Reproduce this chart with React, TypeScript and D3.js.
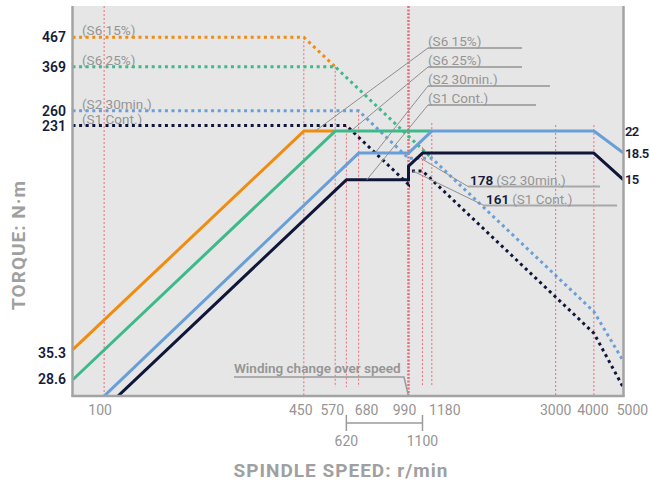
import React from "react";
import * as d3 from "d3";

// ---------- data ----------
const speedTicks = [100, 450, 570, 680, 990, 1180, 3000, 4000, 5000];
const speedTicksLower = [620, 1100];
const torqueTicks = [467, 369, 260, 231];
const torqueTicksLow = [35.3, 28.6];
const powerTicks = [22, 18.5, 15];

const seriesNames = ["(S6 15%)", "(S6 25%)", "(S2 30min.)", "(S1 Cont.)"];

// torque curves [r/min, N·m] (dotted)
const torqueS6_15 = [[78.8, 467], [450, 467], [570, 369]];
const torqueS6_25 = [[78.8, 369], [570, 369], [1180, 178]];
const torqueS2 = [[78.8, 260], [680, 260], [990, 178], [1180, 178], [4000, 52.5], [5000, 35.3]];
const torqueS1 = [[78.8, 231], [620, 231], [990, 144.7], [990, 161], [1100, 161], [4000, 44.2], [5000, 28.6]];

// power curves [r/min, kW] (solid)
const powerS6_15 = [[78.8, 3.94], [450, 22], [570, 22]];
const powerS6_25 = [[78.8, 3.11], [570, 22], [1180, 22]];
const powerS2 = [[100, 2.74], [680, 18.5], [990, 18.5], [1180, 22], [4000, 22], [5000, 18.5]];
const powerS1 = [[111, 2.74], [620, 15], [990, 15], [990, 16.7], [1100, 18.5], [4000, 18.5], [5000, 15]];

// leader targets for the series labels (power curves) [r/min, kW]
const powerLabelTargets = [[490, 22], [641, 22], [769, 18.5], [723, 15]];
// torque value labels after winding change
const torqueValueLabels = [
  { value: "178", name: "(S2 30min.)", target: [1087, 178] },
  { value: "161", name: "(S1 Cont.)", target: [1023, 161] },
];
const windingChangeText = "Winding change over speed";
const windingChangeSpeed = 990;

// ---------- styles / layout ----------
const W = 650, H = 486;
const PL = 72.5, PR = 623.5, PT = 6, PB = 396;
const colors = ["#f28c0f", "#3db98a", "#689fd9", "#10163a"];
const NAVY = "#151a3c";
const GRAY_TXT = "#959595";
const RED = "#ee6b7b";
const FONT = "Roboto, sans-serif";

const x = d3.scaleLog().domain([78.8, 5000]).range([PL, PR]);
const yT = d3.scaleLog().domain([26.8, 599]).range([PB, PT]);
const yP = d3.scaleLog().domain([2.742, 58.8]).range([PB, PT]);

const tickDx: Record<number, number> = { 100: -4, 450: -3, 570: -3, 680: 8, 990: -4, 1180: 13, 3000: 0, 4000: -1, 5000: 9 };

export default function App() {
  const lineT = d3.line<number[]>().x(d => x(d[0])).y(d => yT(d[1]));
  const lineP = d3.line<number[]>().x(d => x(d[0])).y(d => yP(d[1]));
  const torques = [torqueS6_15, torqueS6_25, torqueS2, torqueS1];
  const powers = [powerS6_15, powerS6_25, powerS2, powerS1];

  const guides = [
    { s: 100, y1: PT, y2: PB },
    { s: 450, y1: yT(467), y2: PB },
    { s: 570, y1: yT(369), y2: 387 },
    { s: 620, y1: yT(231), y2: 387 },
    { s: 680, y1: yT(260), y2: 387 },
    { s: 1100, y1: yP(18.5) - 6, y2: 387 },
    { s: 1180, y1: yP(22) - 8, y2: 387 },
    { s: 3000, y1: yP(22) - 6, y2: PB },
    { s: 4000, y1: yP(22) - 6, y2: PB },
  ];

  const upperLabelY = [46, 65, 84, 103];
  const upperLabelEnd = [522, 522, 550, 536];
  const upperX = 428;
  const lowerLabels = [{ x: 470, y: 185, end: 600 }, { x: 486, y: 204, end: 617 }];

  return (
    <svg width={W} height={H} style={{ position: "absolute", left: 0, top: 0, fontFamily: FONT }}>
      <defs>
        <clipPath id="plotClip">
          <rect x={PL} y={PT} width={PR - PL} height={PB - PT} />
        </clipPath>
      </defs>
      <rect x={0} y={0} width={W} height={H} fill="#fff" />
      <rect x={PL} y={PT} width={PR - PL} height={PB - PT} fill="#e6e6e6" />

      {/* guide lines */}
      {guides.map((g, i) => (
        <line key={i} x1={x(g.s)} x2={x(g.s)} y1={g.y1} y2={g.y2} stroke={RED} strokeWidth={1} strokeDasharray="2,2" />
      ))}
      <line x1={x(990)} x2={x(990)} y1={PT} y2={PB} stroke={RED} strokeWidth={2.5} strokeDasharray="2,1.5" />

      {/* winding change label */}
      <text x={234} y={373} fill={GRAY_TXT} fontSize={13.5} fontWeight={600}>{windingChangeText}</text>
      <polyline points={`234,377 404,377 ${x(windingChangeSpeed)},${PB}`} fill="none" stroke="#9a9a9a" strokeWidth={1.5} />

      {/* left in-plot series labels */}
      {torqueTicks.map((t, i) => (
        <text key={i} x={82} y={yT(t) - 2} fill={GRAY_TXT} fontSize={13.5}>{seriesNames[i]}</text>
      ))}

      <g clipPath="url(#plotClip)">
        {torques.map((d, i) => (
          <path key={"t" + i} d={lineT(d) || ""} fill="none" stroke={colors[i]} strokeWidth={3} strokeDasharray="3,3.6" />
        ))}
        {powers.map((d, i) => (
          <path key={"p" + i} d={lineP(d) || ""} fill="none" stroke={colors[i]} strokeWidth={3} strokeLinejoin="round" />
        ))}
      </g>

      {/* upper right series labels with leaders */}
      {seriesNames.map((n, i) => {
        const t = powerLabelTargets[i];
        const by = upperLabelY[i];
        return (
          <g key={"ul" + i}>
            <line x1={upperX} y1={by + 2} x2={x(t[0])} y2={yP(t[1])} stroke="#8f8f8f" strokeWidth={1} />
            <line x1={upperX} y1={by + 2} x2={upperLabelEnd[i]} y2={by + 2} stroke="#a8a8a8" strokeWidth={1.8} />
            <text x={upperX} y={by} fill={GRAY_TXT} fontSize={13.5}>{n}</text>
          </g>
        );
      })}

      {/* torque value labels */}
      {torqueValueLabels.map((l, i) => {
        const L = lowerLabels[i];
        return (
          <g key={"tl" + i}>
            <line x1={L.x - 2} y1={L.y + 1.5} x2={x(l.target[0])} y2={yT(l.target[1])} stroke="#8f8f8f" strokeWidth={1} />
            <line x1={L.x - 2} y1={L.y + 1.5} x2={L.end} y2={L.y + 1.5} stroke="#a8a8a8" strokeWidth={1.8} />
            <text x={L.x} y={L.y} fontSize={13.5}>
              <tspan fill={NAVY} fontWeight={600}>{l.value}</tspan>
              <tspan fill={GRAY_TXT} dx={3}>{l.name}</tspan>
            </text>
          </g>
        );
      })}

      {/* axes */}
      <line x1={PL} x2={PL} y1={PT} y2={PB + 1} stroke="#a3a3a3" strokeWidth={2.5} />
      <line x1={PR} x2={PR} y1={PT} y2={PB + 1} stroke="#a3a3a3" strokeWidth={2.5} />
      <line x1={PL - 1} x2={PR + 1} y1={PB} y2={PB} stroke="#a3a3a3" strokeWidth={2.5} />

      {/* left ticks */}
      {torqueTicks.map(t => (
        <text key={t} x={66} y={yT(t)} textAnchor="end" dominantBaseline="central" fill={NAVY} fontSize={14} fontWeight={600}>{t}</text>
      ))}
      {torqueTicksLow.map(t => (
        <text key={t} x={66} y={yT(t) - 8.5} textAnchor="end" dominantBaseline="central" fill={NAVY} fontSize={14} fontWeight={600}>{t}</text>
      ))}
      {/* right ticks (power) */}
      {powerTicks.map(p => (
        <text key={p} x={625} y={yP(p)} textAnchor="start" dominantBaseline="central" fill={NAVY} fontSize={13} fontWeight={600} letterSpacing={-0.6}>{p}</text>
      ))}

      {/* bottom ticks */}
      {speedTicks.map(s => (
        <text key={s} x={x(s) + (tickDx[s] || 0)} y={415} textAnchor="middle" fill={GRAY_TXT} fontSize={14}>{s}</text>
      ))}
      <g stroke="#9a9a9a" strokeWidth={1.5}>
        <line x1={x(speedTicksLower[0])} x2={x(speedTicksLower[1])} y1={423} y2={423} />
        <line x1={x(speedTicksLower[0])} x2={x(speedTicksLower[0])} y1={415} y2={431} />
        <line x1={x(speedTicksLower[1])} x2={x(speedTicksLower[1])} y1={415} y2={431} />
      </g>
      {speedTicksLower.map(s => (
        <text key={s} x={x(s)} y={446} textAnchor="middle" fill={GRAY_TXT} fontSize={14}>{s}</text>
      ))}

      {/* axis titles */}
      <text x={341} y={477} textAnchor="middle" fill="#a0a0a0" fontSize={19} fontWeight={700} letterSpacing={1}>SPINDLE SPEED: r/min</text>
      <text transform="translate(18,245) rotate(-90)" textAnchor="middle" dominantBaseline="central" fill="#a0a0a0" fontSize={19} fontWeight={700} letterSpacing={1}>TORQUE: N·m</text>
    </svg>
  );
}
